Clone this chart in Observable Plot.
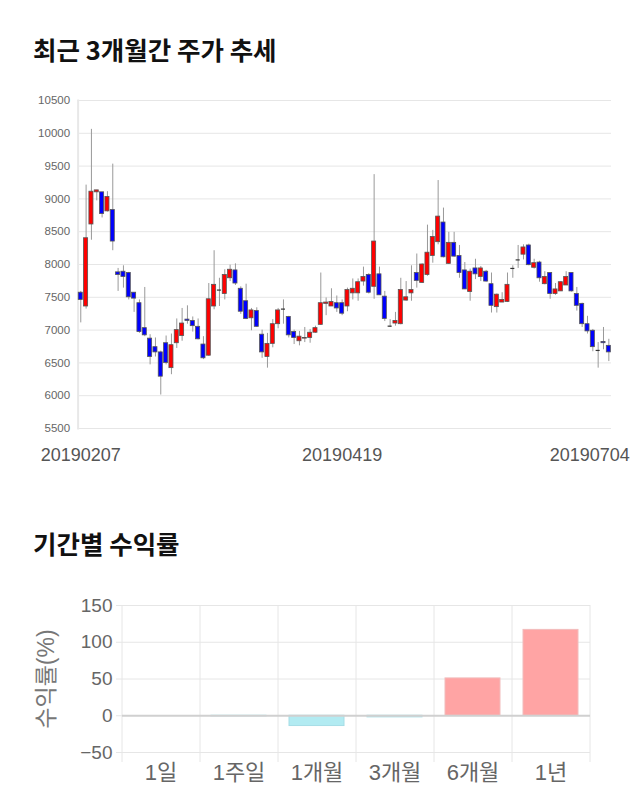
<!DOCTYPE html>
<html><head><meta charset="utf-8">
<script src="https://cdn.jsdelivr.net/npm/d3@7"></script>
<script src="https://cdn.jsdelivr.net/npm/@observablehq/plot@0.6"></script>
<style>
body{margin:0;background:#fff;width:640px;height:810px;position:relative;overflow:hidden;font-family:"Liberation Sans","Noto Sans CJK KR",sans-serif;}
.title{position:absolute;left:33px;font-family:"Noto Sans CJK KR",sans-serif;font-weight:700;font-size:25.5px;color:#111;line-height:1;white-space:nowrap;}
#t1{top:36px}
#t2{top:530px}
#c1{position:absolute;left:0;top:90px}
#c2{position:absolute;left:0;top:595px}
</style></head><body>
<div class="title" id="t1">최근 3개월간 주가 추세</div>
<div id="c1"></div>
<div class="title" id="t2">기간별 수익률</div>
<div id="c2"></div>
<script>
// ---- candlestick data (KRW) ----
const openP = [7570,7360,8610,9100,9100,8810,8830,7880,7890,7870,
7570,7410,7030,6870,6740,6660,6800,6420,6800,6910,
7160,7140,7050,6780,6610,7360,7610,7550,7790,7910,
7630,7440,7180,7290,6930,6590,6790,7090,7320,7200,
6970,6830,6870,6880,6960,7080,7400,7360,7410,7410,
7360,7560,7560,7740,7840,7660,7850,7510,7060,7100,
7090,7450,7560,7870,7720,7840,8130,8340,8640,8010,
8330,8130,7910,7580,7940,7810,7890,7700,7350,7420,
7430,7940,8070,8150,8290,7950,8030,7700,7870,7550,
7590,7680,7870,7550,7400,7090,6990,6690,6820,6760];
const highP = [7590,9210,10060,9130,9100,9110,9530,7940,7980,7880,
7570,7460,7650,6930,6880,6680,6910,6940,7170,7330,
7370,7200,7170,6900,7710,8210,7790,7920,7990,8010,
7660,7700,7330,7340,7000,6950,7160,7330,7460,7210,
7000,6980,7040,7010,7060,7870,7490,7630,7520,7460,
7640,7780,7780,7960,7860,9370,7960,7590,7160,7270,
7790,7740,7980,8160,8010,8600,8520,9280,8860,8490,
8490,8290,8030,7930,8080,7970,7910,7870,7550,7570,
7870,7980,8290,8300,8310,8080,8050,7890,7870,7710,
7740,7890,7870,7650,7410,7210,7010,6810,7040,6860];
const lowP = [7110,7320,8370,8970,8710,8800,8210,7590,7640,7460,
7270,6950,6900,6470,6590,6010,6470,6320,6720,6830,
7090,6970,6850,6550,6600,7310,7360,7460,7740,7680,
7240,7160,6990,7040,6570,6420,6730,7020,7090,6880,
6780,6760,6810,6800,6950,7070,7220,7360,7270,7220,
7280,7460,7440,7670,7550,7470,7530,7130,7040,7060,
7080,7440,7440,7640,7710,7820,8020,8300,8100,8000,
8110,7790,7620,7440,7770,7740,7730,7260,7260,7420,
7420,7790,7940,8070,7980,7930,7730,7690,7470,7530,
7590,7680,7580,7290,7040,6940,6670,6420,6700,6520];
const closeP = [7460,8400,9110,9130,8770,9030,8350,7840,7810,7500,
7480,6970,6920,6590,6660,6290,6500,6770,7000,7100,
7140,7060,6860,6570,7470,7690,7610,7840,7920,7710,
7280,7170,7300,7050,6660,6790,7090,7300,7320,6920,
6880,6900,6880,6960,7030,7410,7420,7430,7330,7250,
7610,7630,7730,7810,7570,8350,7530,7170,7060,7140,
7610,7500,7610,7750,8000,8180,8420,8730,8110,8330,
8120,7870,7620,7890,7850,7940,7740,7370,7540,7460,
7690,7940,8070,8260,7990,8020,7790,7810,7550,7620,
7730,7810,7590,7370,7090,6980,6740,6690,6800,6660];
const priceTicks = [5500,6000,6500,7000,7500,8000,8500,9000,9500,10000,10500];
const dateLabels = ["20190207","20190419","20190704"];
const dateLabelIdx = [0, 49, 99];

// ---- period return data (%) ----
const periods = ["1일","1주일","1개월","3개월","6개월","1년"];
const returns = [0, -0.8, -14, -2.2, 50.8, 116.8];
const returnTicks = [-50, 0, 50, 100, 150];

const FONT = '"Liberation Sans","Noto Sans CJK KR",sans-serif';

// ---- candlestick chart ----
const candles = openP.map((o, i) => ({i, o, h: highP[i], l: lowP[i], c: closeP[i]}));
const bodies = candles.filter(d => d.o !== d.c);
const dojis = candles.filter(d => d.o === d.c);
const labels = dateLabels.map((t, k) => ({t, i: dateLabelIdx[k]}));
const HW = 0.38;

const chart1 = Plot.plot({
  width: 640, height: 385,
  marginTop: 10, marginBottom: 47, marginLeft: 77.6, marginRight: 29,
  x: {domain: [-0.5, candles.length - 0.5], axis: null},
  y: {domain: [5500, 10500], axis: null},
  color: {type: "identity"},
  style: {fontFamily: FONT, background: "white", overflow: "visible"},
  marks: [
    Plot.ruleY(priceTicks, {stroke: "#e6e6e6"}),
    Plot.frame({anchor: "left", stroke: "#e8e8e8", strokeWidth: 2}),
    Plot.axisY(priceTicks, {tickSize: 0, tickPadding: 8, fontSize: 11.5, color: "#666", label: null, tickFormat: d => String(d)}),
    Plot.ruleX(candles, {x: "i", y1: "l", y2: "h", stroke: "#999"}),
    Plot.rect(bodies, {x1: d => d.i - HW, x2: d => d.i + HW, y1: "o", y2: "c",
      fill: d => d.c > d.o ? "#ff0000" : "#0000ff", stroke: "#555", strokeWidth: 0.8}),
    Plot.ruleY(dojis, {x1: d => d.i - HW, x2: d => d.i + HW, y: "c", stroke: "#333", strokeWidth: 1.2}),
    Plot.text(labels.slice(0, 2), {x: "i", text: "t", frameAnchor: "bottom", dy: 32, fontSize: 18, fill: "#555"}),
    Plot.text(labels.slice(2), {x: "i", text: "t", frameAnchor: "bottom", dy: 32, dx: 21, textAnchor: "end", fontSize: 18, fill: "#555"})
  ]
});
document.getElementById("c1").append(chart1);

// ---- returns bar chart ----
const rets = periods.map((p, k) => ({p, v: returns[k]}));
const STEP = (640 - 122 - 50) / periods.length;
const chart2 = Plot.plot({
  width: 640, height: 215,
  marginTop: 10, marginBottom: 58, marginLeft: 122, marginRight: 50,
  x: {domain: periods, paddingInner: 0.29, paddingOuter: 0.145, axis: null},
  y: {domain: [-50, 150], axis: null},
  color: {type: "identity"},
  style: {fontFamily: FONT, background: "white", overflow: "visible"},
  marks: [
    Plot.ruleY(returnTicks, {stroke: "#e6e6e6", insetLeft: -6}),
    Plot.ruleX(periods, {x: d => d, dx: -STEP / 2, stroke: "#e6e6e6", insetBottom: -10}),
    Plot.ruleX(periods.slice(-1), {x: d => d, dx: STEP / 2, stroke: "#e6e6e6", insetBottom: -10}),
    Plot.barY(rets, {x: "p", y: "v",
      fill: d => d.v >= 0 ? "#ffa4a4" : "#b2ebf2",
      stroke: d => d.v >= 0 ? "#f2bcbc" : "#a6dde6", strokeWidth: 1}),
    Plot.ruleY([0], {stroke: "#d0d0d0", strokeWidth: 2}),
    Plot.axisY(returnTicks, {tickSize: 0, tickPadding: 10, fontSize: 19, color: "#666", label: null}),
    Plot.text(["수익률(%)"], {text: d => d, frameAnchor: "left", textAnchor: "middle", dx: -76, rotate: -90, fontSize: 23, fill: "#777"}),
    Plot.axisX(periods, {tickSize: 0, tickPadding: 12, fontSize: 22, color: "#666", label: null})
  ]
});
document.getElementById("c2").append(chart2);
</script>
</body></html>
